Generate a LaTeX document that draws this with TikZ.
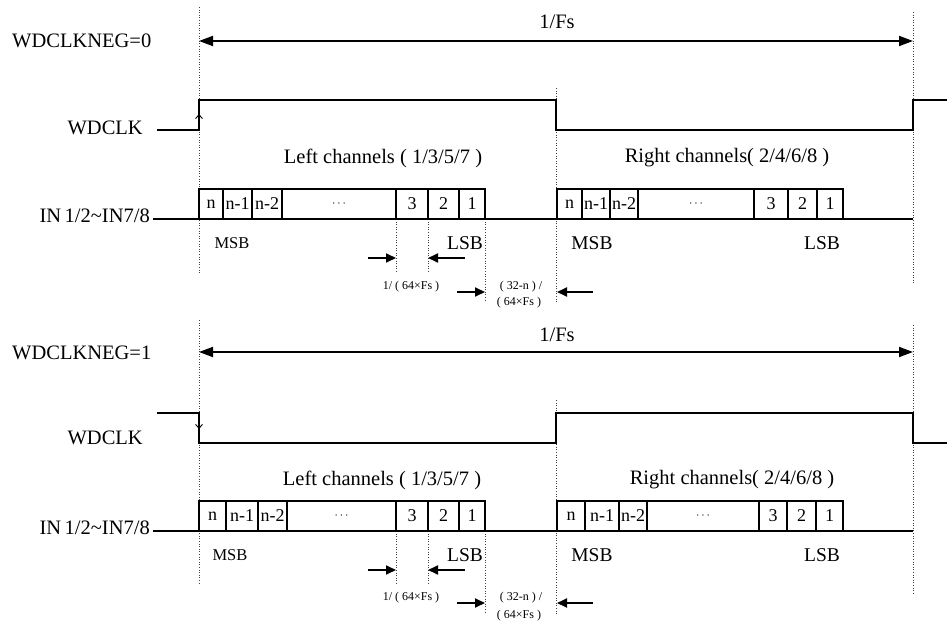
\documentclass[tikz,border=0pt]{standalone}
\usepackage{fontspec}
\setmainfont{Liberation Serif}
\usetikzlibrary{arrows.meta}
\begin{document}
\begin{tikzpicture}[x=1pt,y=-1pt,
  sig/.style={line width=1.8pt, line join=miter},
  guide/.style={line width=1pt, dash pattern=on 1pt off 1.6pt, black!75},
  cellline/.style={line width=1.6pt},
  big/.style={font=\fontsize{20.5}{24}\selectfont, inner sep=0pt},
  mid/.style={font=\fontsize{19.5}{23}\selectfont, inner sep=0pt},
  small/.style={font=\fontsize{16.5}{19}\selectfont, inner sep=0pt},
  cell/.style={font=\fontsize{18}{21}\selectfont, inner sep=0pt},
  tiny/.style={font=\fontsize{12}{14}\selectfont, inner sep=0pt},
  dimarrow/.style={line width=1.8pt, -{Triangle[length=10pt,width=9pt]}},
  period/.style={line width=1.8pt, {Triangle[length=14pt,width=10pt]}-{Triangle[length=14pt,width=10pt]}},
  edgearrow/.style={line width=0.9pt, -{Straight Barb[length=4pt,width=7pt]}}
]
\useasboundingbox (0,0) rectangle (947,628);

% ================= TOP (WDCLKNEG=0) =================
\draw[guide] (199,7) -- (199,273);
\draw[guide] (556,88) -- (556,302);
\draw[guide] (913,12) -- (913,283);
\draw[guide] (396,219) -- (396,273);
\draw[guide] (428,219) -- (428,273);
\draw[guide] (485,219) -- (485,302);

\node[big, anchor=west] (negA) at (12,41) {WDCLKNEG=0};
\node[big] (fsA) at (557,22) {1/Fs};
\coordinate (pA1) at (199,41);
\coordinate (pA2) at (913,41);
\draw[period] (pA1) -- (pA2);

\node[big, anchor=east] (clkA) at (143,128) {WDCLK};
\draw[sig] (157,130) -- (199,130) -- (199,100) -- (556,100) -- (556,130) -- (913,130) -- (913,100) -- (947,100);
\draw[edgearrow] (199,127) -- (199,114);

\node[big] (leftA) at (383,158) {Left channels ( 1/3/5/7 )};
\node[big] (rightA) at (727,158) {Right channels( 2/4/6/8 )};

\node[big, anchor=east] (inA) at (150,216) {IN\,1/2\textasciitilde IN7/8};
\draw[sig] (153,219) -- (913,219);

\foreach \a/\b/\t [count=\i] in {199/223/n, 223/252/n-1, 252/282/n-2, 282/396/{\fontsize{12}{12}\selectfont$\cdots$}, 396/428/3, 428/459/2, 459/485/1}{
  \draw[cellline] (\a,189) rectangle (\b,219);
  \node[cell] (tl\i) at ({(\a+\b)/2},204) {\t};
}
\foreach \a/\b/\t [count=\i] in {557/582/n, 582/610/n-1, 610/638/n-2, 638/754/{\fontsize{12}{12}\selectfont$\cdots$}, 754/788/3, 788/817/2, 817/843/1}{
  \draw[cellline] (\a,189) rectangle (\b,219);
  \node[cell] (tr\i) at ({(\a+\b)/2},204) {\t};
}

\node[small] (msbA1) at (232,243) {MSB};
\node[mid] (lsbA1) at (465,243) {LSB};
\node[mid] (msbA2) at (592,243) {MSB};
\node[mid] (lsbA2) at (822,243) {LSB};

\coordinate (a1s) at (368,258); \coordinate (a1e) at (396,258);
\coordinate (a2s) at (465,258); \coordinate (a2e) at (428,258);
\draw[dimarrow] (a1s) -- (a1e);
\draw[dimarrow] (a2s) -- (a2e);
\node[tiny] (oneA) at (411,287) {1/ ( 64×Fs )};
\coordinate (a3s) at (457,292); \coordinate (a3e) at (485,292);
\coordinate (a4s) at (593,292); \coordinate (a4e) at (557,292);
\draw[dimarrow] (a3s) -- (a3e);
\draw[dimarrow] (a4s) -- (a4e);
\node[tiny] (gapA1) at (521,287) {( 32-n ) /};
\node[tiny] (gapA2) at (519,303) {( 64×Fs )};

% ================= BOTTOM (WDCLKNEG=1) =================
\draw[guide] (199,320) -- (199,585);
\draw[guide] (556,400) -- (556,614);
\draw[guide] (913,325) -- (913,595);
\draw[guide] (396,531) -- (396,585);
\draw[guide] (428,531) -- (428,585);
\draw[guide] (485,531) -- (485,614);

\node[big, anchor=west] (negB) at (12,353) {WDCLKNEG=1};
\node[big] (fsB) at (557,335) {1/Fs};
\coordinate (pB1) at (199,352);
\coordinate (pB2) at (913,352);
\draw[period] (pB1) -- (pB2);

\node[big, anchor=east] (clkB) at (143,438) {WDCLK};
\draw[sig] (157,413) -- (199,413) -- (199,443) -- (556,443) -- (556,413) -- (913,413) -- (913,443) -- (947,443);
\draw[edgearrow] (199,416) -- (199,429);

\node[big] (leftB) at (382,480) {Left channels ( 1/3/5/7 )};
\node[big] (rightB) at (732,480) {Right channels( 2/4/6/8 )};

\node[big, anchor=east] (inB) at (150,528) {IN\,1/2\textasciitilde IN7/8};
\draw[sig] (153,531) -- (913,531);

\foreach \a/\b/\t [count=\i] in {199/226/n, 226/258/n-1, 258/287/n-2, 287/396/{\fontsize{12}{12}\selectfont$\cdots$}, 396/428/3, 428/459/2, 459/485/1}{
  \draw[cellline] (\a,501) rectangle (\b,531);
  \node[cell] (bl\i) at ({(\a+\b)/2},516) {\t};
}
\foreach \a/\b/\t [count=\i] in {557/585/n, 585/619/n-1, 619/647/n-2, 647/759/{\fontsize{12}{12}\selectfont$\cdots$}, 759/787/3, 787/816/2, 816/843/1}{
  \draw[cellline] (\a,501) rectangle (\b,531);
  \node[cell] (br\i) at ({(\a+\b)/2},516) {\t};
}

\node[small] (msbB1) at (230,555) {MSB};
\node[mid] (lsbB1) at (465,555) {LSB};
\node[mid] (msbB2) at (592,555) {MSB};
\node[mid] (lsbB2) at (822,555) {LSB};

\coordinate (b1s) at (368,570); \coordinate (b1e) at (396,570);
\coordinate (b2s) at (465,570); \coordinate (b2e) at (428,570);
\draw[dimarrow] (b1s) -- (b1e);
\draw[dimarrow] (b2s) -- (b2e);
\node[tiny] (oneB) at (411,598) {1/ ( 64×Fs )};
\coordinate (b3s) at (457,603); \coordinate (b3e) at (485,603);
\coordinate (b4s) at (593,603); \coordinate (b4e) at (557,603);
\draw[dimarrow] (b3s) -- (b3e);
\draw[dimarrow] (b4s) -- (b4e);
\node[tiny] (gapB1) at (521,598) {( 32-n ) /};
\node[tiny] (gapB2) at (519,616) {( 64×Fs )};
\end{tikzpicture}
\end{document}
